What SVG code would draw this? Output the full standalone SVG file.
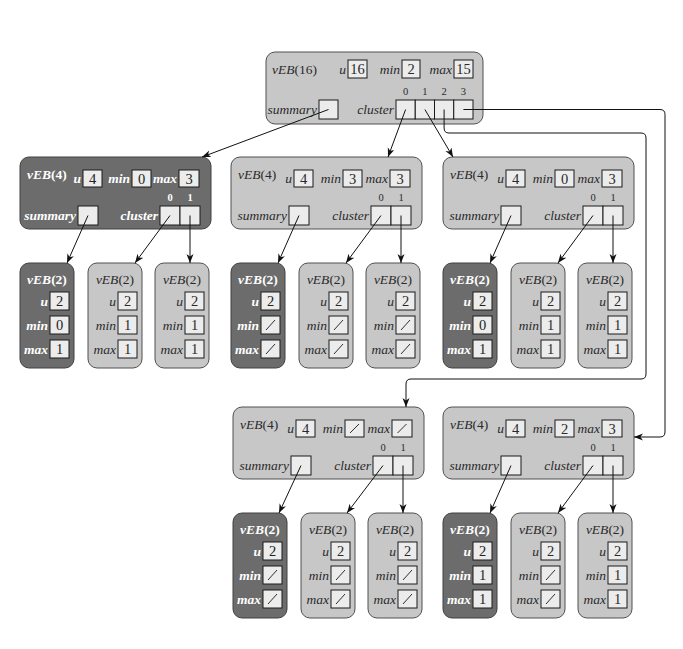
<svg xmlns="http://www.w3.org/2000/svg" width="683" height="649" viewBox="0 0 683 649" font-family="'Liberation Serif', 'DejaVu Serif', serif">
  <defs>
    <marker id="arr" markerUnits="userSpaceOnUse" markerWidth="11" markerHeight="9" refX="9" refY="3.5" orient="auto">
      <path d="M0,0 L9,3.5 L0,7 L2.6,3.5 z" fill="#111"/>
    </marker>
  </defs>
  <style>
    text { font-family: 'Liberation Serif', 'DejaVu Serif', serif; font-size: 13.5px; fill: #2a2a2a; }
    .it { font-style: italic; }
    .lbl { font-style: italic; text-anchor: end; }
    .num { font-size: 14.5px; text-anchor: middle; }
    .idx { font-size: 10.5px; text-anchor: middle; }
    .ttl { text-anchor: middle; }
    .light { fill: #c7c7c7; stroke: #505050; stroke-width: 1; }
    .dark { fill: #6c6c6c; stroke: #404040; stroke-width: 1; }
    .dk text { fill: #fff; font-weight: bold; }
    .dk text.num { fill: #222; font-weight: normal; }
    .bx { fill: #ececec; stroke: #1a1a1a; stroke-width: 1; }
    .nil { stroke: #1a1a1a; stroke-width: 0.9; }
    .conn path { fill: none; stroke: #111; stroke-width: 1; marker-end: url(#arr); }
  </style>

  <rect width="683" height="649" fill="#fff"/>

  <!-- root: vEB(16) -->
  <g id="veb16">
    <rect class="light" x="266" y="52" width="217" height="72" rx="9"/>
    <text x="272" y="74"><tspan class="it">vEB</tspan>(16)</text>
    <text class="lbl" x="346" y="74">u</text>
    <rect class="bx" x="348" y="60" width="19" height="18"/>
    <text class="num" x="357.5" y="74">16</text>
    <text class="lbl" x="400" y="74">min</text>
    <rect class="bx" x="402" y="60" width="18" height="18"/>
    <text class="num" x="411" y="74">2</text>
    <text class="lbl" x="452" y="74">max</text>
    <rect class="bx" x="454" y="60" width="19" height="18"/>
    <text class="num" x="463.5" y="74">15</text>
    <text class="idx" x="405.6" y="95">0</text>
    <text class="idx" x="424.9" y="95">1</text>
    <text class="idx" x="444.1" y="95">2</text>
    <text class="idx" x="463.4" y="95">3</text>
    <text class="lbl" x="317" y="114">summary</text>
    <rect class="bx" x="319" y="100" width="19" height="19"/>
    <text class="lbl" x="394" y="114">cluster</text>
    <rect class="bx" x="396" y="100" width="19.25" height="19"/>
    <rect class="bx" x="415.25" y="100" width="19.25" height="19"/>
    <rect class="bx" x="434.5" y="100" width="19.25" height="19"/>
    <rect class="bx" x="453.75" y="100" width="19.25" height="19"/>
  </g>

  <!-- second level: vEB(4) structures -->
  <g id="veb4-a" class="dk" transform="translate(20,157)">
    <rect class="dark" x="0" y="0" width="191" height="72" rx="9"/>
    <text x="7" y="22"><tspan class="it">vEB</tspan>(4)</text>
    <text class="lbl" x="61" y="26">u</text>
    <rect class="bx" x="63" y="13" width="19" height="17"/>
    <text class="num" x="72.5" y="27">4</text>
    <text class="lbl" x="110" y="26">min</text>
    <rect class="bx" x="112" y="13" width="19" height="17"/>
    <text class="num" x="121.5" y="27">0</text>
    <text class="lbl" x="157" y="26">max</text>
    <rect class="bx" x="159" y="13" width="20" height="17"/>
    <text class="num" x="169" y="27">3</text>
    <text class="idx" x="150" y="44">0</text>
    <text class="idx" x="170" y="44">1</text>
    <text class="lbl" x="56" y="63">summary</text>
    <rect class="bx" x="58" y="49" width="20" height="19"/>
    <text class="lbl" x="138" y="63">cluster</text>
    <rect class="bx" x="140" y="49" width="20" height="19"/>
    <rect class="bx" x="160" y="49" width="20" height="19"/>
  </g>

  <g id="veb4-b" transform="translate(231,157)">
    <rect class="light" x="0" y="0" width="191" height="72" rx="9"/>
    <text x="7" y="22"><tspan class="it">vEB</tspan>(4)</text>
    <text class="lbl" x="61" y="26">u</text>
    <rect class="bx" x="63" y="13" width="19" height="17"/>
    <text class="num" x="72.5" y="27">4</text>
    <text class="lbl" x="110" y="26">min</text>
    <rect class="bx" x="112" y="13" width="19" height="17"/>
    <text class="num" x="121.5" y="27">3</text>
    <text class="lbl" x="157" y="26">max</text>
    <rect class="bx" x="159" y="13" width="20" height="17"/>
    <text class="num" x="169" y="27">3</text>
    <text class="idx" x="150" y="44">0</text>
    <text class="idx" x="170" y="44">1</text>
    <text class="lbl" x="56" y="63">summary</text>
    <rect class="bx" x="58" y="49" width="20" height="19"/>
    <text class="lbl" x="138" y="63">cluster</text>
    <rect class="bx" x="140" y="49" width="20" height="19"/>
    <rect class="bx" x="160" y="49" width="20" height="19"/>
  </g>

  <g id="veb4-c" transform="translate(443,157)">
    <rect class="light" x="0" y="0" width="191" height="72" rx="9"/>
    <text x="7" y="22"><tspan class="it">vEB</tspan>(4)</text>
    <text class="lbl" x="61" y="26">u</text>
    <rect class="bx" x="63" y="13" width="19" height="17"/>
    <text class="num" x="72.5" y="27">4</text>
    <text class="lbl" x="110" y="26">min</text>
    <rect class="bx" x="112" y="13" width="19" height="17"/>
    <text class="num" x="121.5" y="27">0</text>
    <text class="lbl" x="157" y="26">max</text>
    <rect class="bx" x="159" y="13" width="20" height="17"/>
    <text class="num" x="169" y="27">3</text>
    <text class="idx" x="150" y="44">0</text>
    <text class="idx" x="170" y="44">1</text>
    <text class="lbl" x="56" y="63">summary</text>
    <rect class="bx" x="58" y="49" width="20" height="19"/>
    <text class="lbl" x="138" y="63">cluster</text>
    <rect class="bx" x="140" y="49" width="20" height="19"/>
    <rect class="bx" x="160" y="49" width="20" height="19"/>
  </g>

  <g id="veb4-d" transform="translate(233,407)">
    <rect class="light" x="0" y="0" width="191" height="72" rx="9"/>
    <text x="7" y="22"><tspan class="it">vEB</tspan>(4)</text>
    <text class="lbl" x="61" y="26">u</text>
    <rect class="bx" x="63" y="13" width="19" height="17"/>
    <text class="num" x="72.5" y="27">4</text>
    <text class="lbl" x="110" y="26">min</text>
    <rect class="bx" x="112" y="13" width="19" height="17"/>
    <line class="nil" x1="117" y1="26" x2="126" y2="17"/>
    <text class="lbl" x="157" y="26">max</text>
    <rect class="bx" x="159" y="13" width="20" height="17"/>
    <line class="nil" x1="164.5" y1="26" x2="173.5" y2="17"/>
    <text class="idx" x="150" y="44">0</text>
    <text class="idx" x="170" y="44">1</text>
    <text class="lbl" x="56" y="63">summary</text>
    <rect class="bx" x="58" y="49" width="20" height="19"/>
    <text class="lbl" x="138" y="63">cluster</text>
    <rect class="bx" x="140" y="49" width="20" height="19"/>
    <rect class="bx" x="160" y="49" width="20" height="19"/>
  </g>

  <g id="veb4-e" transform="translate(443,407)">
    <rect class="light" x="0" y="0" width="191" height="72" rx="9"/>
    <text x="7" y="22"><tspan class="it">vEB</tspan>(4)</text>
    <text class="lbl" x="61" y="26">u</text>
    <rect class="bx" x="63" y="13" width="19" height="17"/>
    <text class="num" x="72.5" y="27">4</text>
    <text class="lbl" x="110" y="26">min</text>
    <rect class="bx" x="112" y="13" width="19" height="17"/>
    <text class="num" x="121.5" y="27">2</text>
    <text class="lbl" x="157" y="26">max</text>
    <rect class="bx" x="159" y="13" width="20" height="17"/>
    <text class="num" x="169" y="27">3</text>
    <text class="idx" x="150" y="44">0</text>
    <text class="idx" x="170" y="44">1</text>
    <text class="lbl" x="56" y="63">summary</text>
    <rect class="bx" x="58" y="49" width="20" height="19"/>
    <text class="lbl" x="138" y="63">cluster</text>
    <rect class="bx" x="140" y="49" width="20" height="19"/>
    <rect class="bx" x="160" y="49" width="20" height="19"/>
  </g>

  <!-- third level: vEB(2) structures (summary, cluster[0], cluster[1]) -->
  <!-- under A -->
  <g id="veb2-a-s" class="dk" transform="translate(20,263)">
    <rect class="dark" width="54" height="105" rx="9"/>
    <text class="ttl" x="27" y="21"><tspan class="it">vEB</tspan>(2)</text>
    <text class="lbl" x="28" y="43">u</text><rect class="bx" x="30" y="29" width="19" height="18"/><text class="num" x="39.5" y="43">2</text>
    <text class="lbl" x="28" y="67">min</text><rect class="bx" x="30" y="53" width="19" height="18"/><text class="num" x="39.5" y="67">0</text>
    <text class="lbl" x="28" y="91">max</text><rect class="bx" x="30" y="77" width="19" height="18"/><text class="num" x="39.5" y="91">1</text>
  </g>
  <g id="veb2-a-c0" transform="translate(88,263)">
    <rect class="light" width="54" height="105" rx="9"/>
    <text class="ttl" x="27" y="21"><tspan class="it">vEB</tspan>(2)</text>
    <text class="lbl" x="28" y="43">u</text><rect class="bx" x="30" y="29" width="19" height="18"/><text class="num" x="39.5" y="43">2</text>
    <text class="lbl" x="28" y="67">min</text><rect class="bx" x="30" y="53" width="19" height="18"/><text class="num" x="39.5" y="67">1</text>
    <text class="lbl" x="28" y="91">max</text><rect class="bx" x="30" y="77" width="19" height="18"/><text class="num" x="39.5" y="91">1</text>
  </g>
  <g id="veb2-a-c1" transform="translate(155,263)">
    <rect class="light" width="54" height="105" rx="9"/>
    <text class="ttl" x="27" y="21"><tspan class="it">vEB</tspan>(2)</text>
    <text class="lbl" x="28" y="43">u</text><rect class="bx" x="30" y="29" width="19" height="18"/><text class="num" x="39.5" y="43">2</text>
    <text class="lbl" x="28" y="67">min</text><rect class="bx" x="30" y="53" width="19" height="18"/><text class="num" x="39.5" y="67">1</text>
    <text class="lbl" x="28" y="91">max</text><rect class="bx" x="30" y="77" width="19" height="18"/><text class="num" x="39.5" y="91">1</text>
  </g>

  <!-- under B -->
  <g id="veb2-b-s" class="dk" transform="translate(231,263)">
    <rect class="dark" width="54" height="105" rx="9"/>
    <text class="ttl" x="27" y="21"><tspan class="it">vEB</tspan>(2)</text>
    <text class="lbl" x="28" y="43">u</text><rect class="bx" x="30" y="29" width="19" height="18"/><text class="num" x="39.5" y="43">2</text>
    <text class="lbl" x="28" y="67">min</text><rect class="bx" x="30" y="53" width="19" height="18"/><line class="nil" x1="35" y1="67" x2="44" y2="57"/>
    <text class="lbl" x="28" y="91">max</text><rect class="bx" x="30" y="77" width="19" height="18"/><line class="nil" x1="35" y1="91" x2="44" y2="81"/>
  </g>
  <g id="veb2-b-c0" transform="translate(299,263)">
    <rect class="light" width="54" height="105" rx="9"/>
    <text class="ttl" x="27" y="21"><tspan class="it">vEB</tspan>(2)</text>
    <text class="lbl" x="28" y="43">u</text><rect class="bx" x="30" y="29" width="19" height="18"/><text class="num" x="39.5" y="43">2</text>
    <text class="lbl" x="28" y="67">min</text><rect class="bx" x="30" y="53" width="19" height="18"/><line class="nil" x1="35" y1="67" x2="44" y2="57"/>
    <text class="lbl" x="28" y="91">max</text><rect class="bx" x="30" y="77" width="19" height="18"/><line class="nil" x1="35" y1="91" x2="44" y2="81"/>
  </g>
  <g id="veb2-b-c1" transform="translate(366,263)">
    <rect class="light" width="54" height="105" rx="9"/>
    <text class="ttl" x="27" y="21"><tspan class="it">vEB</tspan>(2)</text>
    <text class="lbl" x="28" y="43">u</text><rect class="bx" x="30" y="29" width="19" height="18"/><text class="num" x="39.5" y="43">2</text>
    <text class="lbl" x="28" y="67">min</text><rect class="bx" x="30" y="53" width="19" height="18"/><line class="nil" x1="35" y1="67" x2="44" y2="57"/>
    <text class="lbl" x="28" y="91">max</text><rect class="bx" x="30" y="77" width="19" height="18"/><line class="nil" x1="35" y1="91" x2="44" y2="81"/>
  </g>

  <!-- under C -->
  <g id="veb2-c-s" class="dk" transform="translate(443,263)">
    <rect class="dark" width="54" height="105" rx="9"/>
    <text class="ttl" x="27" y="21"><tspan class="it">vEB</tspan>(2)</text>
    <text class="lbl" x="28" y="43">u</text><rect class="bx" x="30" y="29" width="19" height="18"/><text class="num" x="39.5" y="43">2</text>
    <text class="lbl" x="28" y="67">min</text><rect class="bx" x="30" y="53" width="19" height="18"/><text class="num" x="39.5" y="67">0</text>
    <text class="lbl" x="28" y="91">max</text><rect class="bx" x="30" y="77" width="19" height="18"/><text class="num" x="39.5" y="91">1</text>
  </g>
  <g id="veb2-c-c0" transform="translate(511,263)">
    <rect class="light" width="54" height="105" rx="9"/>
    <text class="ttl" x="27" y="21"><tspan class="it">vEB</tspan>(2)</text>
    <text class="lbl" x="28" y="43">u</text><rect class="bx" x="30" y="29" width="19" height="18"/><text class="num" x="39.5" y="43">2</text>
    <text class="lbl" x="28" y="67">min</text><rect class="bx" x="30" y="53" width="19" height="18"/><text class="num" x="39.5" y="67">1</text>
    <text class="lbl" x="28" y="91">max</text><rect class="bx" x="30" y="77" width="19" height="18"/><text class="num" x="39.5" y="91">1</text>
  </g>
  <g id="veb2-c-c1" transform="translate(578,263)">
    <rect class="light" width="54" height="105" rx="9"/>
    <text class="ttl" x="27" y="21"><tspan class="it">vEB</tspan>(2)</text>
    <text class="lbl" x="28" y="43">u</text><rect class="bx" x="30" y="29" width="19" height="18"/><text class="num" x="39.5" y="43">2</text>
    <text class="lbl" x="28" y="67">min</text><rect class="bx" x="30" y="53" width="19" height="18"/><text class="num" x="39.5" y="67">1</text>
    <text class="lbl" x="28" y="91">max</text><rect class="bx" x="30" y="77" width="19" height="18"/><text class="num" x="39.5" y="91">1</text>
  </g>

  <!-- under D -->
  <g id="veb2-d-s" class="dk" transform="translate(233,513)">
    <rect class="dark" width="54" height="105" rx="9"/>
    <text class="ttl" x="27" y="21"><tspan class="it">vEB</tspan>(2)</text>
    <text class="lbl" x="28" y="43">u</text><rect class="bx" x="30" y="29" width="19" height="18"/><text class="num" x="39.5" y="43">2</text>
    <text class="lbl" x="28" y="67">min</text><rect class="bx" x="30" y="53" width="19" height="18"/><line class="nil" x1="35" y1="67" x2="44" y2="57"/>
    <text class="lbl" x="28" y="91">max</text><rect class="bx" x="30" y="77" width="19" height="18"/><line class="nil" x1="35" y1="91" x2="44" y2="81"/>
  </g>
  <g id="veb2-d-c0" transform="translate(301,513)">
    <rect class="light" width="54" height="105" rx="9"/>
    <text class="ttl" x="27" y="21"><tspan class="it">vEB</tspan>(2)</text>
    <text class="lbl" x="28" y="43">u</text><rect class="bx" x="30" y="29" width="19" height="18"/><text class="num" x="39.5" y="43">2</text>
    <text class="lbl" x="28" y="67">min</text><rect class="bx" x="30" y="53" width="19" height="18"/><line class="nil" x1="35" y1="67" x2="44" y2="57"/>
    <text class="lbl" x="28" y="91">max</text><rect class="bx" x="30" y="77" width="19" height="18"/><line class="nil" x1="35" y1="91" x2="44" y2="81"/>
  </g>
  <g id="veb2-d-c1" transform="translate(368,513)">
    <rect class="light" width="54" height="105" rx="9"/>
    <text class="ttl" x="27" y="21"><tspan class="it">vEB</tspan>(2)</text>
    <text class="lbl" x="28" y="43">u</text><rect class="bx" x="30" y="29" width="19" height="18"/><text class="num" x="39.5" y="43">2</text>
    <text class="lbl" x="28" y="67">min</text><rect class="bx" x="30" y="53" width="19" height="18"/><line class="nil" x1="35" y1="67" x2="44" y2="57"/>
    <text class="lbl" x="28" y="91">max</text><rect class="bx" x="30" y="77" width="19" height="18"/><line class="nil" x1="35" y1="91" x2="44" y2="81"/>
  </g>

  <!-- under E -->
  <g id="veb2-e-s" class="dk" transform="translate(443,513)">
    <rect class="dark" width="54" height="105" rx="9"/>
    <text class="ttl" x="27" y="21"><tspan class="it">vEB</tspan>(2)</text>
    <text class="lbl" x="28" y="43">u</text><rect class="bx" x="30" y="29" width="19" height="18"/><text class="num" x="39.5" y="43">2</text>
    <text class="lbl" x="28" y="67">min</text><rect class="bx" x="30" y="53" width="19" height="18"/><text class="num" x="39.5" y="67">1</text>
    <text class="lbl" x="28" y="91">max</text><rect class="bx" x="30" y="77" width="19" height="18"/><text class="num" x="39.5" y="91">1</text>
  </g>
  <g id="veb2-e-c0" transform="translate(511,513)">
    <rect class="light" width="54" height="105" rx="9"/>
    <text class="ttl" x="27" y="21"><tspan class="it">vEB</tspan>(2)</text>
    <text class="lbl" x="28" y="43">u</text><rect class="bx" x="30" y="29" width="19" height="18"/><text class="num" x="39.5" y="43">2</text>
    <text class="lbl" x="28" y="67">min</text><rect class="bx" x="30" y="53" width="19" height="18"/><line class="nil" x1="35" y1="67" x2="44" y2="57"/>
    <text class="lbl" x="28" y="91">max</text><rect class="bx" x="30" y="77" width="19" height="18"/><line class="nil" x1="35" y1="91" x2="44" y2="81"/>
  </g>
  <g id="veb2-e-c1" transform="translate(578,513)">
    <rect class="light" width="54" height="105" rx="9"/>
    <text class="ttl" x="27" y="21"><tspan class="it">vEB</tspan>(2)</text>
    <text class="lbl" x="28" y="43">u</text><rect class="bx" x="30" y="29" width="19" height="18"/><text class="num" x="39.5" y="43">2</text>
    <text class="lbl" x="28" y="67">min</text><rect class="bx" x="30" y="53" width="19" height="18"/><text class="num" x="39.5" y="67">1</text>
    <text class="lbl" x="28" y="91">max</text><rect class="bx" x="30" y="77" width="19" height="18"/><text class="num" x="39.5" y="91">1</text>
  </g>

  <!-- pointers -->
  <g id="connectors" class="conn">
    <!-- from the root -->
    <path d="M328.5,109.5 L202,157"/>
    <path d="M405.6,109.5 L388,157"/>
    <path d="M424.9,109.5 L453,157"/>
    <path d="M444.1,109.5 V128 Q444.1,133 449,133 H641 Q646,133 646,138 V374 Q646,379 641,379 H411 Q406,379 406,384 V407"/>
    <path d="M463.4,109.5 H660 Q665,109.5 665,114.5 V432 Q665,437 660,437 H634"/>
    <!-- from A -->
    <path d="M88,215.5 L67,263"/>
    <path d="M170,215.5 L135,263"/>
    <path d="M190,215.5 V263"/>
    <!-- from B -->
    <path d="M299,215.5 L278,263"/>
    <path d="M381,215.5 L346,263"/>
    <path d="M401,215.5 V263"/>
    <!-- from C -->
    <path d="M511,215.5 L490,263"/>
    <path d="M593,215.5 L558,263"/>
    <path d="M613,215.5 V263"/>
    <!-- from D -->
    <path d="M301,465.5 L279,513"/>
    <path d="M383,465.5 L347,513"/>
    <path d="M403,465.5 V513"/>
    <!-- from E -->
    <path d="M511,465.5 L490,513"/>
    <path d="M593,465.5 L558,513"/>
    <path d="M613,465.5 V513"/>
  </g>
</svg>
